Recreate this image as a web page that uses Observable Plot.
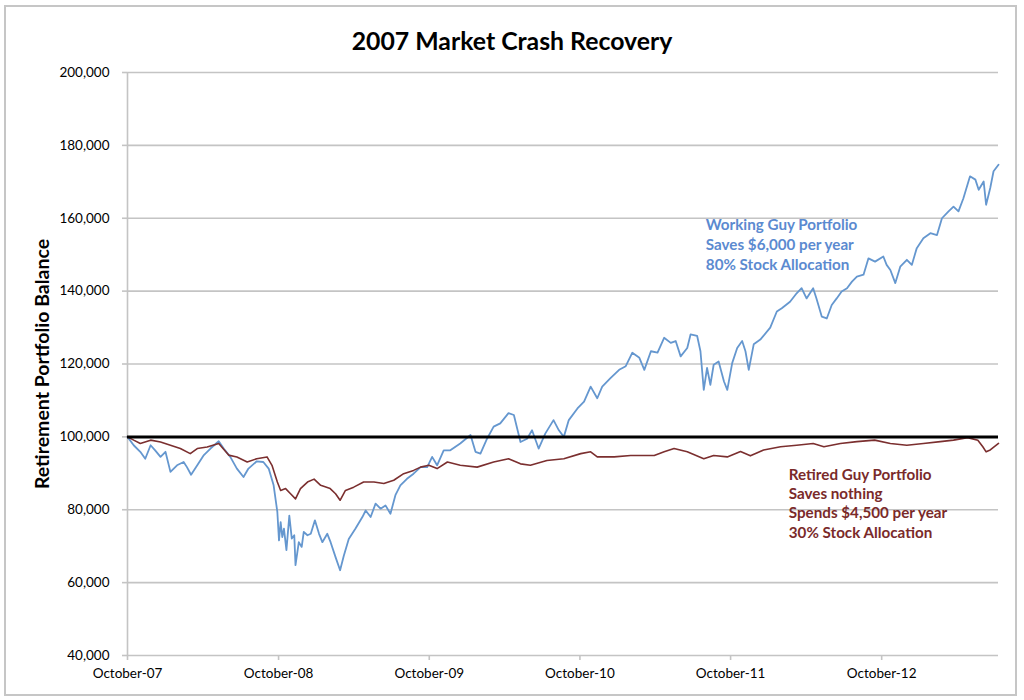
<!DOCTYPE html>
<html><head><meta charset="utf-8">
<script src="https://cdn.jsdelivr.net/npm/d3@7"></script>
<script src="https://cdn.jsdelivr.net/npm/@observablehq/plot@0.6"></script>
<style>
body{margin:0;background:#fff;font-family:Lato,"Open Sans",sans-serif}
#wrap{position:relative;width:1024px;height:700px;overflow:hidden;background:#fff}
#border{position:absolute;left:4px;top:5px;width:1009px;height:687px;border:2px solid #c6c6c6;pointer-events:none}
#title{box-sizing:border-box;height:60px;padding-top:23px;line-height:36px;text-align:center;font-weight:bold;font-size:24.8px;color:#000}
</style></head>
<body><div id="wrap"><div id="title">2007 Market Crash Recovery</div><div id="chart"></div><div id="border"></div></div>
<script>
const workingDates = ["2007-10-01","2007-10-16","2007-11-01","2007-11-13","2007-11-26","2007-12-07","2007-12-20","2008-01-01","2008-01-13","2008-01-29","2008-02-14","2008-02-22","2008-03-03","2008-03-18","2008-04-03","2008-04-19","2008-05-09","2008-05-21","2008-06-06","2008-06-22","2008-07-08","2008-07-20","2008-08-09","2008-08-25","2008-09-07","2008-09-19","2008-09-28","2008-10-02","2008-10-06","2008-10-10","2008-10-14","2008-10-20","2008-10-27","2008-11-02","2008-11-08","2008-11-11","2008-11-19","2008-11-26","2008-12-01","2008-12-10","2008-12-18","2008-12-28","2009-01-07","2009-01-15","2009-01-27","2009-02-04","2009-02-16","2009-02-27","2009-03-08","2009-03-20","2009-04-05","2009-04-22","2009-04-30","2009-05-12","2009-05-24","2009-06-05","2009-06-17","2009-06-29","2009-07-11","2009-07-23","2009-08-08","2009-08-24","2009-09-10","2009-09-26","2009-10-08","2009-10-20","2009-11-05","2009-11-21","2009-12-15","2010-01-09","2010-01-21","2010-02-02","2010-02-18","2010-03-06","2010-03-22","2010-04-11","2010-04-24","2010-05-02","2010-05-10","2010-05-26","2010-06-07","2010-06-23","2010-07-09","2010-07-29","2010-08-11","2010-08-23","2010-09-04","2010-09-25","2010-10-11","2010-10-27","2010-11-12","2010-11-24","2010-12-14","2011-01-04","2011-01-20","2011-02-05","2011-02-22","2011-03-06","2011-03-22","2011-04-07","2011-04-23","2011-05-09","2011-05-21","2011-06-02","2011-06-18","2011-06-26","2011-07-12","2011-07-20","2011-07-28","2011-08-05","2011-08-13","2011-08-21","2011-09-02","2011-09-15","2011-09-23","2011-10-05","2011-10-17","2011-10-29","2011-11-06","2011-11-14","2011-11-26","2011-12-12","2012-01-05","2012-01-21","2012-02-02","2012-02-22","2012-03-09","2012-03-21","2012-04-02","2012-04-18","2012-04-26","2012-05-09","2012-05-21","2012-06-02","2012-06-14","2012-06-26","2012-07-09","2012-07-21","2012-08-02","2012-08-18","2012-08-30","2012-09-15","2012-10-05","2012-10-13","2012-10-22","2012-11-03","2012-11-15","2012-12-01","2012-12-13","2012-12-25","2013-01-10","2013-01-27","2013-02-12","2013-02-24","2013-03-12","2013-03-24","2013-04-05","2013-04-17","2013-05-03","2013-05-16","2013-05-24","2013-06-05","2013-06-11","2013-06-21","2013-06-29","2013-07-11"];
const workingValues = [100000,97700,95900,94000,97700,96300,94500,95900,90400,92200,93100,91700,89600,92200,95000,96800,98800,96800,94500,91300,89000,91300,93300,93100,91300,86700,79400,71600,76600,72500,74800,68900,78400,72100,73000,64800,71100,69800,73900,73000,73400,77100,73400,71100,73400,71100,67000,63400,67400,72000,74800,78000,79800,78000,81700,80300,81200,78900,84000,86700,88500,89900,91700,91700,94500,92200,96300,96300,98200,100500,95900,95400,99500,102800,103700,106500,106000,102300,98600,99500,101800,96800,100900,104600,101800,100000,104600,107800,109700,113800,110600,113800,116100,118400,119400,123100,121700,118400,123500,123100,127200,125800,126300,122100,124400,128100,127700,123500,112900,118900,114300,119800,120700,115200,112900,120300,124400,126300,123500,118400,125400,126700,130000,134400,135300,137100,139400,140800,138000,140800,138000,133000,132500,136200,138000,139900,140800,142600,144000,144500,149000,148100,149500,147200,145800,142200,146700,148600,147200,151800,154500,155900,155400,160000,161900,163200,161900,165500,171500,170600,167800,170100,163700,168300,172900,174700];

const retiredDates = ["2007-10-01","2007-10-16","2007-11-01","2007-11-26","2007-12-20","2008-01-13","2008-02-06","2008-03-01","2008-03-18","2008-04-11","2008-05-09","2008-06-02","2008-06-22","2008-07-17","2008-08-09","2008-09-03","2008-09-15","2008-09-28","2008-10-06","2008-10-18","2008-10-30","2008-11-11","2008-11-23","2008-12-10","2008-12-26","2009-01-11","2009-02-03","2009-02-16","2009-02-27","2009-03-12","2009-04-01","2009-04-25","2009-05-20","2009-06-13","2009-07-07","2009-07-31","2009-08-24","2009-09-10","2009-09-30","2009-10-20","2009-11-14","2009-12-15","2010-01-25","2010-03-06","2010-04-11","2010-05-10","2010-06-03","2010-07-13","2010-08-23","2010-10-03","2010-10-27","2010-11-12","2010-12-23","2011-02-01","2011-03-30","2011-04-23","2011-05-17","2011-06-18","2011-07-28","2011-08-21","2011-09-23","2011-10-25","2011-11-18","2011-12-20","2012-01-30","2012-03-09","2012-04-18","2012-05-14","2012-06-23","2012-08-02","2012-09-14","2012-10-22","2012-12-01","2013-01-10","2013-02-20","2013-03-24","2013-04-27","2013-05-22","2013-06-03","2013-06-11","2013-06-21","2013-07-11"];
const retiredValues = [100000,99100,98200,99100,98600,97700,96800,95400,96800,97200,98200,95000,94500,93100,94000,94500,92200,87600,85300,85800,84400,83000,85800,87600,88400,86700,85800,84400,82600,85300,86200,87600,87600,87200,88100,89900,90800,91700,92200,91300,93100,92200,91700,93100,94000,92600,92200,93500,94000,95400,95900,94500,94500,94900,94900,95900,96800,95900,94000,94900,94500,96000,94800,96400,97300,97700,98200,97300,98200,98700,99100,98200,97700,98200,98700,99100,99800,99100,97300,95900,96400,98200];

const startingBalance = 100000;
const xDomain = ["2007-10-01","2013-07-11"];
const xTickDates = ["2007-10-01","2008-10-01","2009-10-01","2010-10-01","2011-10-01","2012-10-01"];
const yTicks = [40000,60000,80000,100000,120000,140000,160000,180000,200000];

const workingNote = "Working Guy Portfolio\nSaves $6,000 per year\n80% Stock Allocation";
const retiredNote = "Retired Guy Portfolio\nSaves nothing\nSpends $4,500 per year\n30% Stock Allocation";
const workingNoteAt = ["2011-08-02", 153000];
const retiredNoteAt = ["2012-02-19", 82000];
const yLabel = "Retirement Portfolio Balance";

const parse = s => new Date(s + "T00:00:00Z");
const working = workingDates.map((d, i) => ({date: parse(d), value: workingValues[i]}));
const retired = retiredDates.map((d, i) => ({date: parse(d), value: retiredValues[i]}));

const blue = "#6597cf", red = "#7b2f2f", grid = "#c4c4c4";

const chart = Plot.plot({
  width: 1024, height: 640,
  marginTop: 12, marginBottom: 45, marginLeft: 127, marginRight: 26,
  style: {fontFamily: "Lato, 'Open Sans', sans-serif", fontSize: "13px", color: "#000", background: "transparent"},
  x: {type: "utc", domain: xDomain.map(parse)},
  y: {domain: [40000, 200000]},
  marks: [
    Plot.gridY(yTicks, {stroke: grid, strokeOpacity: 1, strokeWidth: 1.6}),
    Plot.ruleX([parse(xDomain[0])], {stroke: grid, strokeWidth: 1.6}),
    Plot.axisY(yTicks, {tickSize: 5, tickPadding: 13, tickFormat: d3.format(","), stroke: grid, strokeWidth: 1.6, fontSize: 13.5, label: null}),
    Plot.axisX(xTickDates.map(parse), {tickSize: 5, tickPadding: 8, tickFormat: d3.utcFormat("%B-%y"), stroke: grid, strokeWidth: 1.6, fontSize: 13.5, label: null}),
    Plot.line(working, {x: "date", y: "value", stroke: blue, strokeWidth: 1.8}),
    Plot.line(retired, {x: "date", y: "value", stroke: red, strokeWidth: 1.6}),
    Plot.ruleY([startingBalance], {stroke: "#000", strokeWidth: 3}),
    Plot.text([workingNote], {x: () => parse(workingNoteAt[0]), y: () => workingNoteAt[1], text: d => d, textAnchor: "start", fill: "#5b8ad0", fontWeight: "bold", fontSize: 15.2, lineHeight: 1.32}),
    Plot.text([retiredNote], {x: () => parse(retiredNoteAt[0]), y: () => retiredNoteAt[1], text: d => d, textAnchor: "start", fill: "#7a2a2a", fontWeight: "bold", fontSize: 15.2, lineHeight: 1.28}),
    Plot.text([yLabel], {frameAnchor: "left", textAnchor: "middle", rotate: -90, dx: -85, fontSize: 19.5, fontWeight: "bold", fill: "#000"})
  ]
});
document.getElementById("chart").appendChild(chart);
</script>
</body></html>
